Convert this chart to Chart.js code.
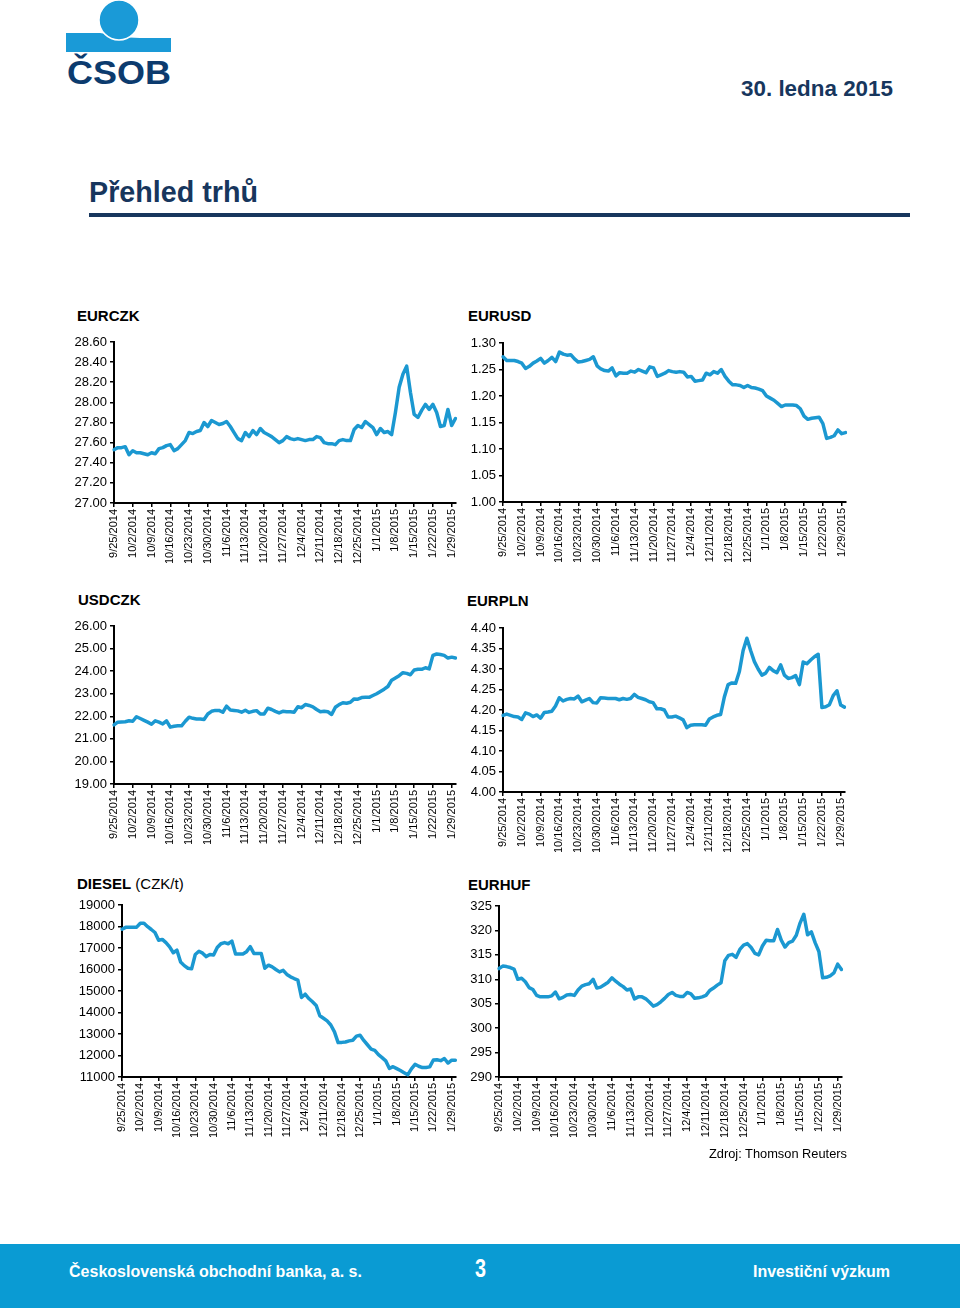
<!DOCTYPE html>
<html>
<head>
<meta charset="utf-8">
<script src="https://cdn.jsdelivr.net/npm/chart.js@4.4.1/dist/chart.umd.min.js"></script>
<style>
  html, body { margin:0; padding:0; background:#fff; }
  body { width:960px; height:1308px; position:relative; overflow:hidden; font-family:"Liberation Sans", Arial, sans-serif; }
  .t { position:absolute; white-space:nowrap; display:inline-block; }
  canvas { position:absolute; }
  .ct { font-size:15px; line-height:15px; color:#000; }
</style>
</head>
<body>

<svg style="position:absolute;left:0;top:0" width="200" height="100">
  <path d="M66,33 L100,33 C112,35 126,38 140,38 L171,38 L171,52 L66,52 Z" fill="#1a9ad7"/>
  <circle cx="119" cy="20" r="20" fill="#1a9ad7" stroke="#fff" stroke-width="1.5"/>
</svg>
<span class="t" id="logoTxt" style="left:67px;top:55px;font-size:34px;line-height:34px;font-weight:bold;color:#0c3b6e;">ČSOB</span>

<span class="t" id="dateTxt" style="left:741px;top:78px;font-size:22px;line-height:22px;font-weight:bold;color:#17365d;">30. ledna 2015</span>
<span class="t" id="titleTxt" style="left:89px;top:178px;font-size:29px;line-height:29px;font-weight:bold;color:#17365d;">Přehled trhů</span>
<div style="position:absolute;left:89px;top:213px;width:821px;height:4px;background:#17365d;"></div>

<span class="t ct" style="left:77px;top:308px;font-weight:bold;">EURCZK</span>
<span class="t ct" style="left:468px;top:308px;font-weight:bold;">EURUSD</span>
<span class="t ct" style="left:78px;top:592px;font-weight:bold;">USDCZK</span>
<span class="t ct" style="left:467px;top:593px;font-weight:bold;">EURPLN</span>
<span class="t ct" style="left:77px;top:876px;"><b>DIESEL</b> (CZK/t)</span>
<span class="t ct" style="left:468px;top:877px;font-weight:bold;">EURHUF</span>

<canvas id="c1"></canvas>
<canvas id="c2"></canvas>
<canvas id="c3"></canvas>
<canvas id="c4"></canvas>
<canvas id="c5"></canvas>
<canvas id="c6"></canvas>

<span class="t" id="srcTxt" style="left:709px;top:1147px;font-size:13px;line-height:13px;color:#000;">Zdroj: Thomson Reuters</span>

<div style="position:absolute;left:0;top:1244px;width:960px;height:64px;background:#0a9bd3;"></div>
<span class="t" id="footL" style="left:69px;top:1263px;font-size:17px;line-height:17px;font-weight:bold;color:#fff;">Československá obchodní banka, a. s.</span>
<span class="t" id="footN" style="left:475px;top:1255px;font-size:26px;line-height:26px;font-weight:bold;color:#fff;">3</span>
<span class="t" id="footR" style="left:753px;top:1263px;font-size:17px;line-height:17px;font-weight:bold;color:#fff;">Investiční výzkum</span>

<script>
// ---------- DATA ----------
const tickLabels = ["9/25/2014","10/2/2014","10/9/2014","10/16/2014","10/23/2014","10/30/2014","11/6/2014",
  "11/13/2014","11/20/2014","11/27/2014","12/4/2014","12/11/2014","12/18/2014","12/25/2014",
  "1/1/2015","1/8/2015","1/15/2015","1/22/2015","1/29/2015"];

// business days 9/25/2014 .. 1/30/2015 (categories)
const categories = [];
(function(){
  let d = new Date(Date.UTC(2014, 8, 25));
  while (categories.length < 92) {
    const wd = d.getUTCDay();
    if (wd !== 0 && wd !== 6) categories.push((d.getUTCMonth()+1) + "/" + d.getUTCDate() + "/" + d.getUTCFullYear());
    d = new Date(d.getTime() + 86400000);
  }
})();

const eurczk = [27.53,27.55,27.55,27.56,27.48,27.52,27.50,27.50,27.49,27.48,
  27.50,27.49,27.54,27.55,27.57,27.58,27.52,27.54,27.58,27.62,
  27.70,27.69,27.71,27.72,27.80,27.76,27.82,27.80,27.78,27.79,
  27.81,27.76,27.70,27.64,27.62,27.70,27.66,27.72,27.68,27.74,
  27.70,27.68,27.66,27.63,27.60,27.62,27.66,27.64,27.63,27.64,
  27.63,27.62,27.63,27.63,27.66,27.65,27.60,27.59,27.59,27.58,
  27.62,27.63,27.62,27.62,27.73,27.77,27.75,27.81,27.78,27.75,
  27.68,27.74,27.70,27.71,27.68,27.90,28.15,28.28,28.36,28.10,
  27.88,27.85,27.92,27.98,27.93,27.98,27.90,27.76,27.77,27.93,
  27.77,27.84];

const eurusd = [1.274,1.267,1.267,1.267,1.265,1.262,1.252,1.256,1.262,1.266,
  1.271,1.262,1.267,1.273,1.265,1.283,1.279,1.277,1.278,1.270,
  1.264,1.265,1.267,1.269,1.274,1.257,1.251,1.248,1.247,1.253,
  1.238,1.244,1.243,1.243,1.247,1.245,1.250,1.247,1.244,1.255,
  1.253,1.237,1.240,1.243,1.248,1.246,1.245,1.246,1.245,1.236,
  1.237,1.228,1.229,1.230,1.243,1.240,1.246,1.243,1.250,1.237,
  1.228,1.221,1.221,1.220,1.216,1.220,1.216,1.215,1.213,1.210,
  1.200,1.196,1.192,1.186,1.180,1.183,1.183,1.183,1.182,1.176,
  1.162,1.156,1.158,1.159,1.160,1.148,1.120,1.122,1.125,1.136,
  1.129,1.131];

const usdczk = [21.62,21.74,21.75,21.76,21.80,21.78,21.98,21.90,21.82,21.74,
  21.65,21.80,21.74,21.66,21.80,21.52,21.56,21.58,21.58,21.78,
  21.96,21.91,21.88,21.88,21.86,22.10,22.22,22.26,22.26,22.18,
  22.45,22.28,22.26,22.24,22.18,22.27,22.17,22.22,22.25,22.10,
  22.10,22.36,22.30,22.22,22.15,22.22,22.20,22.20,22.18,22.42,
  22.38,22.52,22.48,22.42,22.30,22.20,22.22,22.20,22.08,22.40,
  22.52,22.60,22.58,22.62,22.77,22.76,22.83,22.84,22.84,22.92,
  23.00,23.10,23.20,23.32,23.60,23.70,23.80,23.93,23.90,23.84,
  24.05,24.08,24.08,24.15,24.10,24.70,24.76,24.74,24.70,24.58,
  24.62,24.58];

const eurpln = [4.187,4.190,4.187,4.184,4.183,4.177,4.193,4.190,4.184,4.188,
  4.180,4.194,4.195,4.197,4.210,4.230,4.222,4.226,4.228,4.227,
  4.234,4.220,4.224,4.228,4.218,4.217,4.230,4.229,4.228,4.228,
  4.228,4.225,4.228,4.226,4.228,4.238,4.231,4.228,4.225,4.220,
  4.218,4.203,4.203,4.200,4.183,4.183,4.185,4.181,4.176,4.157,
  4.163,4.164,4.164,4.164,4.163,4.178,4.183,4.187,4.189,4.232,
  4.262,4.266,4.265,4.294,4.345,4.375,4.345,4.318,4.300,4.285,
  4.290,4.304,4.296,4.291,4.310,4.285,4.277,4.279,4.284,4.262,
  4.317,4.313,4.322,4.330,4.336,4.206,4.208,4.213,4.235,4.247,
  4.212,4.207];

const diesel = [17870,17960,17960,17960,17970,18150,18150,17990,17860,17720,
  17360,17400,17250,17050,16780,16900,16350,16180,16060,16030,
  16700,16850,16760,16600,16700,16670,17020,17200,17250,17200,
  17320,16720,16720,16720,16830,17060,16750,16750,16750,16060,
  16200,16120,16000,15890,15960,15770,15660,15580,15510,14700,
  14850,14650,14500,14330,13850,13730,13610,13420,13100,12600,
  12610,12630,12680,12710,12900,12940,12700,12500,12300,12240,
  12040,11900,11750,11400,11480,11390,11300,11200,11100,11380,
  11590,11500,11440,11440,11470,11790,11800,11760,11860,11650,
  11780,11780];

const eurhuf = [312.2,312.7,312.6,312.4,312.1,310.0,310.2,309.5,308.3,307.9,
  306.7,306.4,306.4,306.4,306.6,307.4,306.0,306.3,306.8,306.9,
  306.7,307.8,308.6,308.9,309.1,310.0,308.2,308.4,308.9,309.4,
  310.3,309.6,309.0,308.5,307.8,308.0,306.0,306.4,306.4,306.0,
  305.3,304.5,304.8,305.4,306.1,306.9,307.3,306.7,306.5,306.5,
  307.3,307.0,306.1,306.2,306.4,306.7,307.7,308.2,308.8,309.3,
  313.8,314.9,315.1,314.5,316.1,317.0,317.3,316.5,315.3,315.0,
  316.8,318.0,317.9,317.9,320.2,318.0,316.6,317.5,317.8,319.0,
  321.5,323.3,319.1,319.7,317.5,315.7,310.3,310.4,310.7,311.3,
  313.1,312.0];

// ---------- RENDER ----------
const FONT = '"Liberation Sans", Arial, sans-serif';
const LINE = '#1b98d1';

function makeChart(id, box, values, yMin, yMax, step, dec) {
  const cv = document.getElementById(id);
  const H = box[3] + 12;
  cv.width = box[2]; cv.height = H;
  cv.style.left = box[0] + 'px'; cv.style.top = box[1] + 'px';
  cv.style.width = box[2] + 'px'; cv.style.height = H + 'px';
  new Chart(cv, {
    type: 'line',
    data: { labels: categories, datasets: [{ data: values, borderColor: LINE, borderWidth: 3.5,
      pointRadius: 0, tension: 0, fill: false, borderJoinStyle: 'round', borderCapStyle: 'round' }] },
    options: {
      responsive: false, animation: false, devicePixelRatio: 1,
      layout: { padding: { top: 12, right: 10, left: 0, bottom: 12 } },
      plugins: { legend: { display: false }, tooltip: { enabled: false } },
      scales: {
        x: {
          type: 'category', offset: false,
          grid: { offset: false, drawOnChartArea: false, color: '#000', lineWidth: 1.5, tickLength: 4 },
          border: { color: '#000', width: 2 },
          ticks: { autoSkip: false, minRotation: 90, maxRotation: 90, padding: 2, color: '#000',
            font: { family: FONT, size: 11 }, callback: (v, i) => tickLabels[i] },
          afterBuildTicks: s => { s.ticks = s.ticks.filter(t => t.value % 5 === 0); },
          afterFit: s => { s.height = 60; }
        },
        y: {
          min: yMin, max: yMax,
          ticks: { stepSize: step, padding: 3, color: '#000', font: { family: FONT, size: 13 },
            callback: v => Number(v).toFixed(dec) },
          grid: { drawOnChartArea: false, color: '#000', lineWidth: 1.5, tickLength: 4 },
          border: { color: '#000', width: 2 },
          afterFit: s => { s.width = 50; }
        }
      }
    }
  });
}

makeChart('c1', [64, 330, 403, 233], eurczk, 27.0, 28.6, 0.2, 2);
makeChart('c2', [453, 331, 404, 231], eurusd, 1.0, 1.3, 0.05, 2);
makeChart('c3', [64, 614, 403, 230], usdczk, 19, 26, 1, 2);
makeChart('c4', [453, 616, 403, 236], eurpln, 4.0, 4.4, 0.05, 2);
makeChart('c5', [72, 893, 395, 244], diesel, 11000, 19000, 1000, 0);
makeChart('c6', [449, 894, 404, 243], eurhuf, 290, 325, 5, 0);

function fit(id, w) {
  const el = document.getElementById(id);
  const cw = el.getBoundingClientRect().width;
  el.style.transformOrigin = '0 0';
  el.style.transform = 'scaleX(' + (w / cw) + ')';
}
fit('logoTxt', 104);
fit('dateTxt', 152);
fit('titleTxt', 169);
fit('srcTxt', 138);
fit('footL', 293);
fit('footN', 11);
fit('footR', 137);
</script>
</body>
</html>
